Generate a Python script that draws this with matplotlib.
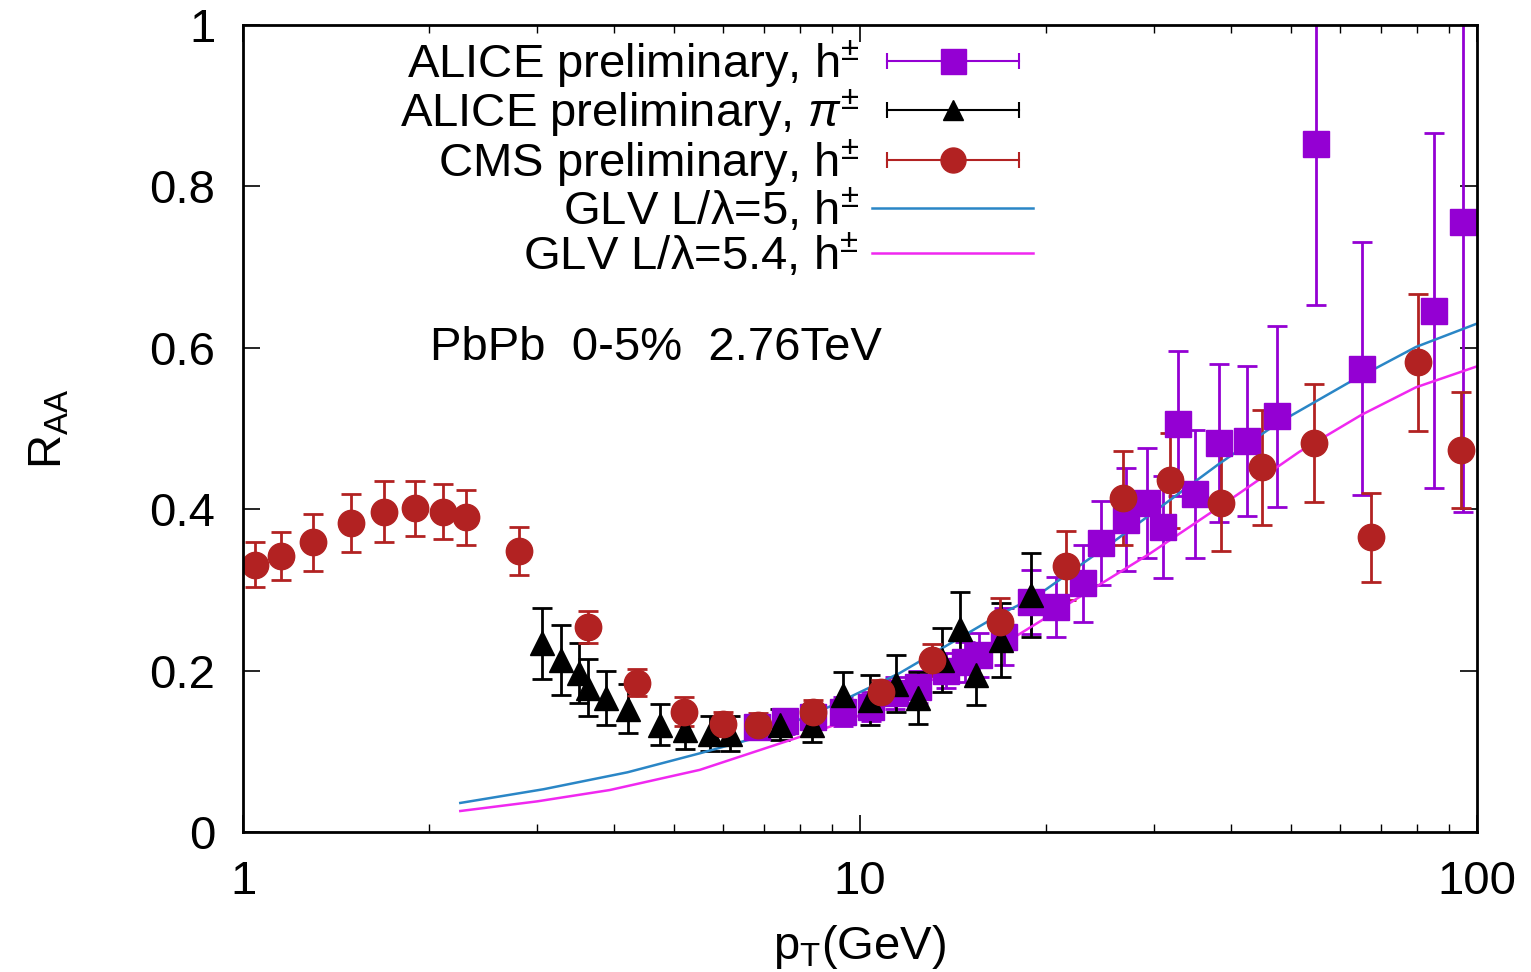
import matplotlib
matplotlib.use("Agg")
import matplotlib.pyplot as plt
from matplotlib.lines import Line2D
from matplotlib.legend_handler import HandlerLine2D, HandlerTuple

plt.rcParams['font.family'] = ['Liberation Sans', 'DejaVu Sans']
plt.rcParams['mathtext.fontset'] = 'custom'
plt.rcParams['mathtext.rm'] = 'Liberation Sans'
plt.rcParams['mathtext.it'] = 'Liberation Sans:italic'
plt.rcParams['mathtext.sf'] = 'Liberation Sans'

# ALICE preliminary h+-
alice_h_pt = [6.8, 7.55, 8.4, 9.38, 10.4, 11.4, 12.4, 13.8, 14.8, 15.6, 17.1, 18.9,
              20.8, 23.0, 24.6, 27.0, 29.2, 31.0, 32.8, 34.9, 38.2, 42.4, 47.4,
              54.9, 65.0, 85.2, 95.0]
alice_h_r = [0.130, 0.137, 0.143, 0.149, 0.155, 0.172, 0.180, 0.200, 0.211, 0.219,
             0.242, 0.285, 0.279, 0.308, 0.358, 0.387, 0.408, 0.378, 0.506, 0.419,
             0.482, 0.484, 0.515, 0.853, 0.574, 0.646, 0.756]
alice_h_err = [0.015, 0.015, 0.015, 0.018, 0.018, 0.020, 0.020, 0.022, 0.025, 0.027,
               0.035, 0.040, 0.037, 0.048, 0.052, 0.064, 0.068, 0.063, 0.090, 0.079,
               0.098, 0.093, 0.112, 0.200, 0.157, 0.220, 0.360]

# ALICE preliminary pi+-
alice_pi_pt = [3.05, 3.28, 3.51, 3.63, 3.87, 4.21, 4.74, 5.21, 5.71, 6.16, 7.43, 8.36,
               9.38, 10.37, 11.45, 12.4, 13.6, 14.5, 15.4, 16.95, 18.93]
alice_pi_r = [0.234, 0.213, 0.197, 0.179, 0.166, 0.153, 0.133, 0.126, 0.122, 0.122,
              0.133, 0.133, 0.170, 0.164, 0.184, 0.166, 0.213, 0.252, 0.195, 0.238, 0.294]
alice_pi_err = [0.044, 0.043, 0.037, 0.035, 0.034, 0.030, 0.025, 0.023, 0.022, 0.022,
                0.019, 0.021, 0.028, 0.031, 0.035, 0.032, 0.040, 0.045, 0.038, 0.046, 0.052]

# CMS preliminary h+-
cms_pt = [1.046, 1.152, 1.299, 1.497, 1.693, 1.899, 2.109, 2.298, 2.80, 3.62, 4.35,
          5.18, 6.00, 6.84, 8.38, 10.8, 13.1, 16.86, 21.6, 26.7, 31.8, 38.4, 44.9,
          54.4, 67.3, 80.3, 94.2]
cms_r = [0.331, 0.342, 0.359, 0.383, 0.397, 0.401, 0.397, 0.390, 0.348, 0.254, 0.185,
         0.149, 0.134, 0.133, 0.149, 0.173, 0.213, 0.260, 0.330, 0.414, 0.436, 0.408,
         0.452, 0.482, 0.365, 0.582, 0.473]
cms_err = [0.028, 0.030, 0.035, 0.036, 0.038, 0.034, 0.034, 0.034, 0.030, 0.020, 0.017,
           0.018, 0.015, 0.015, 0.015, 0.015, 0.020, 0.030, 0.043, 0.058, 0.059, 0.060,
           0.071, 0.073, 0.055, 0.085, 0.072]

# GLV curves
glv5_pt = [2.25, 3.07, 4.2, 5.5, 6.88, 9.03, 11.6, 16.8, 19.3, 26.0, 38.0, 47.4, 62.0, 79.6, 100.0]
glv5_r = [0.036, 0.053, 0.074, 0.0975, 0.118, 0.157, 0.197, 0.269, 0.292, 0.362, 0.455,
          0.506, 0.557, 0.601, 0.630]
glv54_pt = [2.25, 3.0, 3.93, 5.5, 8.0, 9.63, 11.6, 17.5, 29.5, 40.0, 51.5, 65.0, 79.6, 100.0]
glv54_r = [0.026, 0.038, 0.052, 0.077, 0.118, 0.139, 0.168, 0.238, 0.345, 0.413, 0.471,
           0.517, 0.551, 0.577]

labels = [r"ALICE preliminary, h$^{\pm}$",
          r"ALICE preliminary, $\pi^{\pm}$",
          r"CMS preliminary, h$^{\pm}$",
          r"GLV L/λ=5, h$^{\pm}$",
          r"GLV L/λ=5.4, h$^{\pm}$"]

c_purple = "#9400d3"
c_black = "#000000"
c_red = "#b22222"
c_blue = "#2a86c6"
c_mag = "#f028f0"

FS = 34

fig = plt.figure(figsize=(15.31, 9.72), dpi=100)
ax = fig.add_axes([243/1531, 1-832/972, (1477-243)/1531, (832-25)/972])

ekw = dict(ls='none', elinewidth=2.0, capsize=7, capthick=2.0)
ax.errorbar(alice_h_pt, alice_h_r, yerr=alice_h_err, marker='s', ms=19, color=c_purple, **ekw)
ax.errorbar(alice_pi_pt, alice_pi_r, yerr=alice_pi_err, marker='^', ms=17, color=c_black, **ekw)
ax.errorbar(cms_pt, cms_r, yerr=cms_err, marker='o', ms=19, color=c_red, **ekw)
ax.plot(glv5_pt, glv5_r, color=c_blue, lw=1.8)
ax.plot(glv54_pt, glv54_r, color=c_mag, lw=1.8)

ax.set_xscale('log')
ax.set_xlim(1, 100)
ax.set_ylim(0, 1)
ax.set_yticks([0, 0.2, 0.4, 0.6, 0.8, 1.0])
ax.set_yticklabels(['0', '0.2', '0.4', '0.6', '0.8', '1'])
ax.set_xticks([1, 10, 100])
ax.set_xticklabels(['1', '10', '100'])
ax.tick_params(which='both', direction='in', top=True, right=True, labelsize=FS)
ax.tick_params(axis='y', pad=20)
ax.tick_params(axis='x', pad=20)
ax.tick_params(which='major', length=12, width=1.2)
ax.tick_params(which='minor', length=6, width=1.0)
ax.tick_params(axis='y', which='minor', left=False, right=False)
for s in ax.spines.values():
    s.set_linewidth(2.0)

ax.set_xlabel(r"p$_{\mathrm{T}}$(GeV)", fontsize=FS, labelpad=14)
ax.set_ylabel(r"R$_{\mathrm{AA}}$", fontsize=FS, labelpad=56)

ax.text(0.1515, 0.6, "PbPb  0-5%  2.76TeV", transform=ax.get_yaxis_transform(),
        fontsize=FS, va='center', ha='left')

# legend handles (gnuplot-like: horizontal bar with end caps)
handles = []
hmap = {}
for col, mk, ms in [(c_purple, 's', 18), (c_black, '^', 15), (c_red, 'o', 18)]:
    capl = Line2D([], [], color=col, lw=1.5, marker='|', ms=12, mew=1.5)
    mkl = Line2D([], [], color=col, ls='none', marker=mk, ms=ms)
    hmap[capl] = HandlerLine2D(numpoints=2)
    handles.append((capl, mkl))
handles.append(Line2D([], [], color=c_blue, lw=1.8))
handles.append(Line2D([], [], color=c_mag, lw=1.8))
hmap[tuple] = HandlerTuple(ndivide=1)
leg = ax.legend(handles, labels, loc='upper right', bbox_to_anchor=(0.667, 1.025),
                frameon=False, markerfirst=False, fontsize=FS, handlelength=3.4,
                handletextpad=0.28, labelspacing=-0.05, handler_map=hmap, borderpad=0.2)

fig.savefig("out.png", dpi=100)
